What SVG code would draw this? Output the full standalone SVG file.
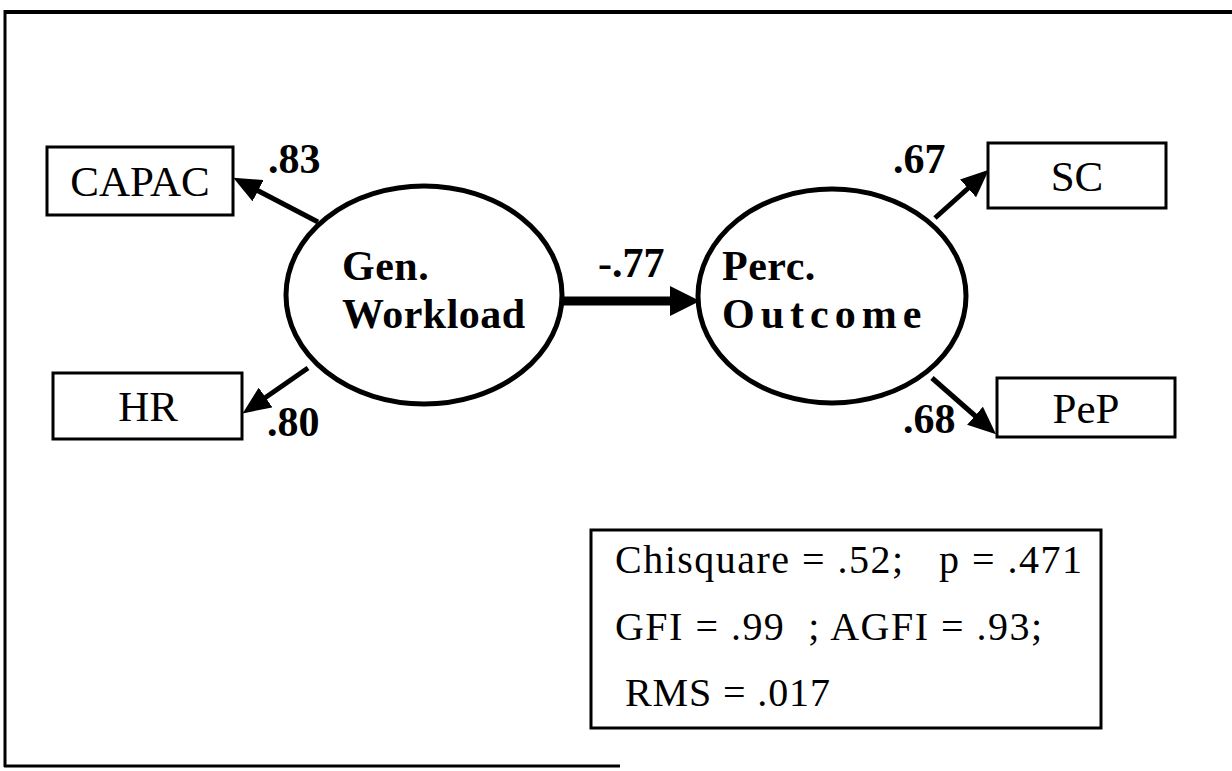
<svg xmlns="http://www.w3.org/2000/svg" width="1232" height="771" viewBox="0 0 1232 771">
<style>
.box{fill:#fff;stroke:#000;stroke-width:3}
.lat{fill:#fff;stroke:#000;stroke-width:5}
.obs{font-family:"Liberation Serif",serif;font-size:43px;text-anchor:middle;fill:#000}
.latt{font-family:"Liberation Serif",serif;font-size:42px;font-weight:bold;letter-spacing:0.5px;fill:#000}
.coef{font-family:"Liberation Serif",serif;font-size:42px;font-weight:bold;fill:#000}
.fit{font-family:"Liberation Serif",serif;font-size:40px;fill:#000;white-space:pre}
.edge{stroke:#000;stroke-width:5;fill:none}
</style>
<defs>
<marker id="ah" viewBox="0 0 28 24" refX="8" refY="12" markerWidth="28" markerHeight="24" markerUnits="userSpaceOnUse" orient="auto"><path d="M0,0 L28,12 L0,24 z" fill="#000"/></marker>
<marker id="ahb" viewBox="0 0 30 30" refX="10" refY="15" markerWidth="30" markerHeight="30" markerUnits="userSpaceOnUse" orient="auto"><path d="M0,0 L30,15 L0,30 z" fill="#000"/></marker>
</defs>
<rect width="1232" height="771" fill="#fff"/>
<g id="frame" fill="none" stroke="#000">
<path d="M1232,12 L5,12" stroke-width="4"/>
<path d="M5,10 L5,767" stroke-width="3"/>
<path d="M4,766 L620,766" stroke-width="3"/>
</g>
<g id="connectors">
<line class="edge" x1="318" y1="222" x2="251" y2="187" marker-end="url(#ah)"/>
<line class="edge" x1="308" y1="368" x2="259" y2="402" marker-end="url(#ah)"/>
<line class="edge" x1="935" y1="218" x2="974" y2="183" marker-end="url(#ah)"/>
<line class="edge" x1="932" y1="378" x2="981" y2="421" marker-end="url(#ah)"/>
<line x1="562" y1="301" x2="680" y2="301" stroke="#000" stroke-width="9" marker-end="url(#ahb)"/>
</g>
<g id="capac"><rect class="box" x="47" y="147" width="186" height="68"/><text class="obs" x="140" y="196">CAPAC</text></g>
<g id="hr"><rect class="box" x="53" y="373" width="189" height="66"/><text class="obs" x="148" y="421">HR</text></g>
<g id="sc"><rect class="box" x="988" y="143" width="178" height="65"/><text class="obs" x="1077" y="191">SC</text></g>
<g id="pep"><rect class="box" x="997" y="378" width="178" height="59"/><text class="obs" x="1086" y="423">PeP</text></g>
<g id="workload"><ellipse class="lat" cx="424" cy="295" rx="138" ry="109"/><text class="latt" x="342" y="280">Gen.</text><text class="latt" x="342" y="328">Workload</text></g>
<g id="outcome"><ellipse class="lat" cx="832" cy="296" rx="134" ry="107"/><text class="latt" x="722" y="280">Perc.</text><text class="latt" x="722" y="328" textLength="200">Outcome</text></g>
<g id="coefs">
<text class="coef" x="268" y="173">.83</text>
<text class="coef" x="267" y="436">.80</text>
<text class="coef" x="598" y="277" font-weight="normal">-.77</text>
<text class="coef" x="893" y="173">.67</text>
<text class="coef" x="903" y="433">.68</text>
</g>
<g id="fitbox"><rect class="box" x="591" y="530" width="510" height="198"/>
<text class="fit" x="615" y="573" textLength="467">Chisquare = .52;   p = .471</text>
<text class="fit" x="615" y="640" textLength="427">GFI = .99  ; AGFI = .93;</text>
<text class="fit" x="625" y="706" textLength="205">RMS = .017</text>
</g>
</svg>
